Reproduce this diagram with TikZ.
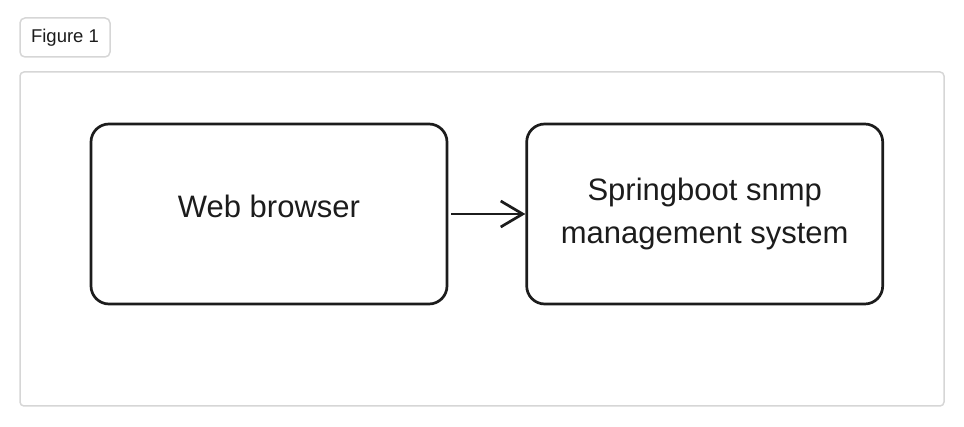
\documentclass[tikz,border=0pt]{standalone}
\usepackage{fontspec}
\setmainfont{Liberation Sans}
\usetikzlibrary{arrows.meta, positioning}
\definecolor{framegrey}{RGB}{214, 214, 214}
\definecolor{inkblack}{RGB}{28, 28, 28}

\tikzset{
  sysbox/.style={draw=inkblack, line width=2.7pt, rounded corners=18pt,
    minimum width=356pt, minimum height=180pt, align=center,
    font=\fontsize{31}{43}\selectfont, text=inkblack},
  flow/.style={draw=inkblack, line width=2.7pt, -{Straight Barb[length=22pt, width=26pt]}}
}

\begin{document}
\begin{tikzpicture}[x=1pt, y=-1pt]
  \useasboundingbox (0,0) rectangle (964,427);
  % caption tab and outer frame
  \node[draw=framegrey, line width=1.5pt, rounded corners=5pt, minimum width=90pt, minimum height=39pt,
    font=\fontsize{18.5}{20}\selectfont, text=inkblack] (tab) at (65,37.5) {Figure 1};
  \draw[framegrey, line width=1.5pt, rounded corners=4pt] (20,72) rectangle (944,406);

  % the two boxes
  \node[sysbox, text depth=16pt] (browser) at (269,214) {Web browser};
  \node[sysbox, right=77pt of browser] (server) {Springboot snmp\\management system};

  \draw[flow] (browser.east) ++(3pt,0) coordinate (a) -- (a -| server.west);
\end{tikzpicture}
\end{document}
